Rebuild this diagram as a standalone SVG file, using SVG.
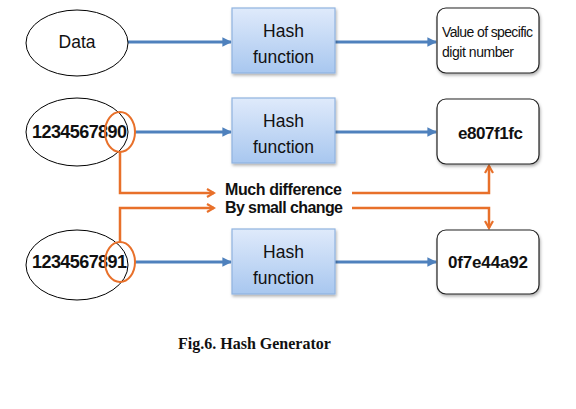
<svg xmlns="http://www.w3.org/2000/svg" width="576" height="409" viewBox="0 0 576 409">
<style>
.ell{fill:#fff;stroke:#000;stroke-width:1}
.hash{fill:url(#hg);stroke:#8fb3e0;stroke-width:1.2}
.val{fill:#fff;stroke:#222;stroke-width:1.2}
.blue{fill:none;stroke:#4f81bd;stroke-width:3;marker-end:url(#ab)}
.orange{fill:none;stroke:#e8702a;stroke-width:2.5;marker-end:url(#ao)}
.circ{fill:none;stroke:#e8702a;stroke-width:2}
.t{font-family:"Liberation Sans",Arial,sans-serif;fill:#111}
.reg{font-size:17.5px}
.bold{font-size:17px;font-weight:bold}
.num{font-size:18px;font-weight:bold}
.small{font-size:14px}
.mid{font-size:16px;font-weight:bold}
.cap{font-family:"Liberation Serif","Times New Roman",serif;font-size:16px;font-weight:bold;fill:#111}
</style>
<defs>
<linearGradient id="hg" x1="0" y1="0" x2="0" y2="1">
<stop offset="0" stop-color="#dfeafb"/>
<stop offset="1" stop-color="#a8c7ef"/>
</linearGradient>
<filter id="sh" x="-10%" y="-10%" width="125%" height="130%">
<feDropShadow dx="1" dy="2" stdDeviation="1.5" flood-color="#000" flood-opacity="0.3"/>
</filter>
<marker id="ab" viewBox="0 0 10 10" refX="9" refY="5" markerWidth="3.2" markerHeight="3.2" orient="auto" markerUnits="strokeWidth">
<path d="M0,0 L10,5 L0,10 Z" fill="#4f81bd"/>
</marker>
<marker id="ao" viewBox="0 0 10 10" refX="8" refY="5" markerWidth="4" markerHeight="4" orient="auto" markerUnits="strokeWidth">
<path d="M1,1 L8,5 L1,9" fill="none" stroke="#e8702a" stroke-width="2.2"/>
</marker>
</defs>

<g id="connectors">
<path class="blue" d="M128,42 H231"/>
<path class="blue" d="M335,42 H436"/>
<path class="blue" d="M135,132 H231"/>
<path class="blue" d="M335,132 H436"/>
<path class="blue" d="M135,262 H231"/>
<path class="blue" d="M335,262 H436"/>
<path class="orange" d="M120,152 V193 H214"/>
<path class="orange" d="M352,193 H489 V166"/>
<path class="orange" d="M120,242 V208 H214"/>
<path class="orange" d="M352,208 H489 V228"/>
</g>

<g id="data">
<ellipse class="ell" cx="77" cy="43" rx="51" ry="33"/>
<text class="t reg" x="77" y="48" text-anchor="middle">Data</text>
</g>
<g id="hash1">
<rect class="hash" x="232" y="8" width="103" height="65" filter="url(#sh)"/>
<text class="t reg" x="283.5" y="37" text-anchor="middle">Hash</text>
<text class="t reg" x="283.5" y="63" text-anchor="middle" textLength="61">function</text>
</g>
<g id="value">
<rect class="val" x="437" y="8" width="102" height="65" rx="9" filter="url(#sh)"/>
<text class="t small" x="442" y="37" textLength="91">Value of specific</text>
<text class="t small" x="442" y="57" textLength="72">digit number</text>
</g>

<g id="input1">
<ellipse class="ell" cx="77" cy="132" rx="51" ry="34"/>
<text class="t num" x="32" y="138" textLength="95">1234567890</text>
<ellipse class="circ" cx="120" cy="132" rx="15" ry="20"/>
</g>
<g id="hash2">
<rect class="hash" x="232" y="98" width="103" height="65" filter="url(#sh)"/>
<text class="t reg" x="283.5" y="127" text-anchor="middle">Hash</text>
<text class="t reg" x="283.5" y="153" text-anchor="middle" textLength="61">function</text>
</g>
<g id="out1">
<rect class="val" x="437" y="99" width="102" height="65" rx="9" filter="url(#sh)"/>
<text class="t bold" x="458" y="139" textLength="65">e807f1fc</text>
</g>

<g id="label">
<text class="t mid" x="225" y="195" textLength="117">Much difference</text>
<text class="t mid" x="225" y="213" textLength="118">By small change</text>
</g>

<g id="input2">
<ellipse class="ell" cx="77" cy="265" rx="51" ry="35"/>
<text class="t num" x="32" y="268" textLength="95">1234567891</text>
<ellipse class="circ" cx="120" cy="262" rx="15" ry="20"/>
</g>
<g id="hash3">
<rect class="hash" x="232" y="229" width="103" height="65" filter="url(#sh)"/>
<text class="t reg" x="283.5" y="258" text-anchor="middle">Hash</text>
<text class="t reg" x="283.5" y="284" text-anchor="middle" textLength="61">function</text>
</g>
<g id="out2">
<rect class="val" x="437" y="230" width="102" height="64" rx="9" filter="url(#sh)"/>
<text class="t bold" x="448" y="268" textLength="80">0f7e44a92</text>
</g>

<text class="cap" x="178" y="349">Fig.6. Hash Generator</text>
</svg>
